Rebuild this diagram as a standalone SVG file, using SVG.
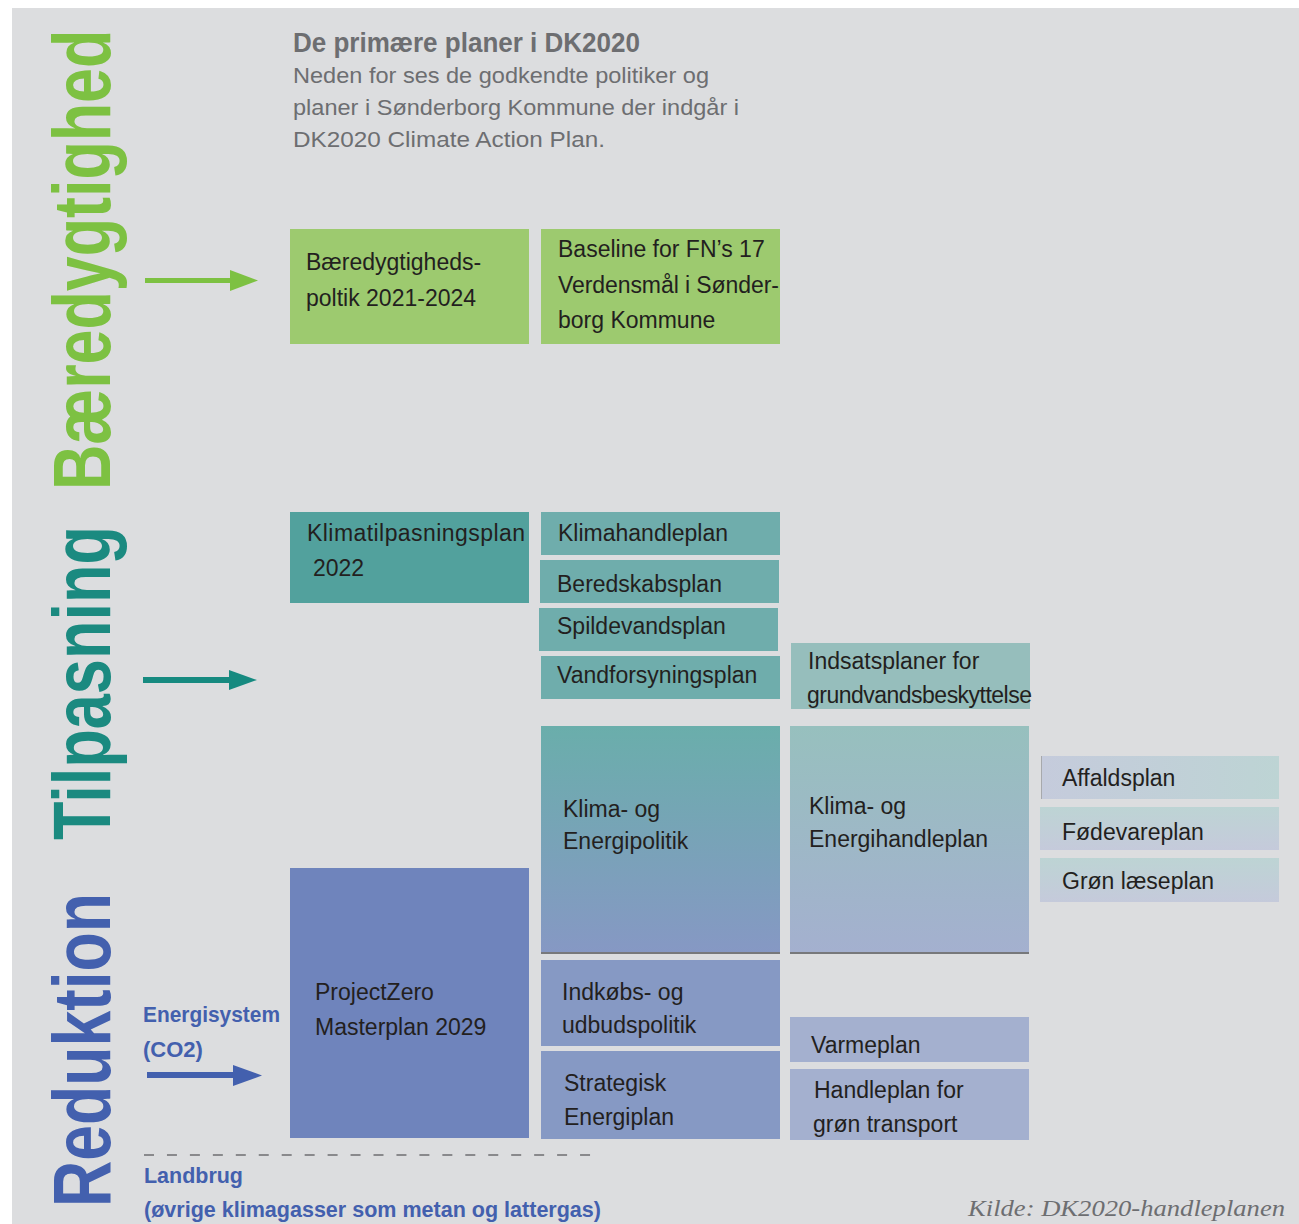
<svg xmlns="http://www.w3.org/2000/svg" width="1299" height="1224" viewBox="0 0 1299 1224">
  <defs>
    <style>
      .panel { fill: #dcdddf; }
      .title { font-family: "Liberation Sans", Arial, sans-serif; font-weight: bold; font-size: 27px; fill: #6d6e71; }
      .sub { font-family: "Liberation Sans", Arial, sans-serif; font-size: 22.5px; fill: #6d6e71; }
      .side { font-family: "Liberation Sans", Arial, sans-serif; font-weight: bold; font-size: 81px; }
      .lbl { font-family: "Liberation Sans", Arial, sans-serif; font-size: 23px; fill: #231f20; }
      .blue { font-family: "Liberation Sans", Arial, sans-serif; font-weight: bold; font-size: 22px; fill: #4360ae; }
      .src { font-family: "Liberation Serif", "Times New Roman", serif; font-style: italic; font-size: 24px; fill: #6d6e71; }
      .green { fill: #9dca6f; }
      .teal1 { fill: #52a19d; }
      .teal2 { fill: #6fadac; }
      .teal3 { fill: #96bebc; }
      .blue1 { fill: #6f84bc; }
      .blue2 { fill: #8699c4; }
      .blue3 { fill: #a4b0cf; }
      .edge { stroke: #77787b; stroke-width: 2; }
    </style>
    <linearGradient id="gPolitik" x1="0" y1="0" x2="0" y2="1">
      <stop offset="0" stop-color="#6aaeab"/>
      <stop offset="1" stop-color="#8698c4"/>
    </linearGradient>
    <linearGradient id="gHandle" x1="0" y1="0" x2="0" y2="1">
      <stop offset="0" stop-color="#97c0be"/>
      <stop offset="1" stop-color="#a4b0cf"/>
    </linearGradient>
    <linearGradient id="gAffald" x1="0" y1="0" x2="1" y2="0">
      <stop offset="0" stop-color="#c5cbdc"/>
      <stop offset="1" stop-color="#bdd4d4"/>
    </linearGradient>
    <linearGradient id="gSmall" x1="0" y1="0" x2="0" y2="1">
      <stop offset="0" stop-color="#bdd4d4"/>
      <stop offset="1" stop-color="#c5cadb"/>
    </linearGradient>
  </defs>

  <!-- background -->
  <rect x="0" y="0" width="1299" height="1224" fill="#ffffff"/>
  <rect class="panel" x="12" y="8" width="1287" height="1216"/>

  <!-- heading -->
  <g id="heading">
    <text class="title" x="293" y="52" textLength="347" lengthAdjust="spacingAndGlyphs">De primære planer i DK2020</text>
    <text class="sub" x="293" y="83" textLength="416" lengthAdjust="spacingAndGlyphs">Neden for ses de godkendte politiker og</text>
    <text class="sub" x="293" y="115" textLength="446" lengthAdjust="spacingAndGlyphs">planer i Sønderborg Kommune der indgår i</text>
    <text class="sub" x="293" y="147" textLength="312" lengthAdjust="spacingAndGlyphs">DK2020 Climate Action Plan.</text>
  </g>

  <!-- vertical category labels (condensed by a horizontal scale along the reading direction) -->
  <g id="categories">
    <text class="side" fill="#7dc142" transform="translate(110 490) rotate(-90) scale(0.775 1)">Bæredygtighed</text>
    <text class="side" fill="#1b8a80" transform="translate(110 840) rotate(-90) scale(0.778 1)">Tilpasning</text>
    <text class="side" fill="#4360ae" transform="translate(110 1207) rotate(-90) scale(0.793 1)">Reduktion</text>
  </g>

  <!-- connectors -->
  <g id="connectors">
    <g id="arrow-green" fill="#7dc142">
      <rect x="145" y="278" width="88" height="5"/>
      <polygon points="230,270 258,280.5 230,291"/>
    </g>
    <g id="arrow-teal" fill="#168a80">
      <rect x="143" y="677" width="89" height="6"/>
      <polygon points="229,670 257,680 229,690"/>
    </g>
    <g id="arrow-blue" fill="#4360ae">
      <rect x="147" y="1072" width="88" height="6"/>
      <polygon points="233,1065 262,1075.5 233,1086"/>
    </g>
    <line id="divider" x1="144" y1="1155" x2="592" y2="1155" stroke="#6d6e71" stroke-width="1.5" stroke-dasharray="10 12.95"/>
  </g>

  <!-- Bæredygtighed -->
  <g id="node-baeredygtighedspolitik">
    <rect class="green" x="290" y="229" width="239" height="115"/>
    <text class="lbl" x="306" y="270">Bæredygtigheds-</text>
    <text class="lbl" x="306" y="306">poltik 2021-2024</text>
  </g>
  <g id="node-baseline-fn">
    <rect class="green" x="541" y="229" width="239" height="115"/>
    <text class="lbl" x="558" y="257">Baseline for FN’s 17</text>
    <text class="lbl" x="558" y="293" textLength="221">Verdensmål i Sønder-</text>
    <text class="lbl" x="558" y="328">borg Kommune</text>
  </g>

  <!-- Tilpasning -->
  <g id="node-klimatilpasningsplan">
    <rect class="teal1" x="290" y="512" width="239" height="91"/>
    <text class="lbl" x="307" y="541" textLength="218">Klimatilpasningsplan</text>
    <text class="lbl" x="313" y="576">2022</text>
  </g>
  <g id="node-klimahandleplan">
    <rect class="teal2" x="541" y="512" width="239" height="43"/>
    <text class="lbl" x="558" y="541">Klimahandleplan</text>
  </g>
  <g id="node-beredskabsplan">
    <rect class="teal2" x="540" y="560" width="239" height="43"/>
    <text class="lbl" x="557" y="592">Beredskabsplan</text>
  </g>
  <g id="node-spildevandsplan">
    <rect class="teal2" x="539" y="608" width="239" height="43"/>
    <text class="lbl" x="557" y="634">Spildevandsplan</text>
  </g>
  <g id="node-vandforsyningsplan">
    <rect class="teal2" x="541" y="656" width="239" height="43"/>
    <text class="lbl" x="557" y="683">Vandforsyningsplan</text>
  </g>
  <g id="node-indsatsplaner">
    <rect class="teal3" x="791" y="643" width="239" height="66"/>
    <text class="lbl" x="808" y="669">Indsatsplaner for</text>
    <text class="lbl" x="807" y="703" textLength="225">grundvandsbeskyttelse</text>
  </g>

  <!-- Reduktion -->
  <g id="node-klima-energipolitik">
    <rect x="541" y="726" width="239" height="227" fill="url(#gPolitik)"/>
    <line class="edge" x1="541" y1="953" x2="780" y2="953"/>
    <text class="lbl" x="563" y="817">Klima- og</text>
    <text class="lbl" x="563" y="849">Energipolitik</text>
  </g>
  <g id="node-klima-energihandleplan">
    <rect x="790" y="726" width="239" height="227" fill="url(#gHandle)"/>
    <line class="edge" x1="790" y1="953" x2="1029" y2="953"/>
    <text class="lbl" x="809" y="814">Klima- og</text>
    <text class="lbl" x="809" y="847">Energihandleplan</text>
  </g>
  <g id="node-affaldsplan">
    <rect x="1041" y="756" width="238" height="43" fill="url(#gAffald)"/>
    <line x1="1041.5" y1="756" x2="1041.5" y2="799" stroke="#a7a9ac" stroke-width="1"/>
    <text class="lbl" x="1062" y="786">Affaldsplan</text>
  </g>
  <g id="node-foedevareplan">
    <rect x="1040" y="807" width="239" height="43" fill="url(#gSmall)"/>
    <text class="lbl" x="1062" y="840">Fødevareplan</text>
  </g>
  <g id="node-groen-laeseplan">
    <rect x="1040" y="858" width="239" height="44" fill="url(#gSmall)"/>
    <text class="lbl" x="1062" y="889">Grøn læseplan</text>
  </g>
  <g id="node-projectzero">
    <rect class="blue1" x="290" y="868" width="239" height="270"/>
    <text class="lbl" x="315" y="1000">ProjectZero</text>
    <text class="lbl" x="315" y="1035">Masterplan 2029</text>
  </g>
  <g id="node-indkoebspolitik">
    <rect class="blue2" x="541" y="960" width="239" height="86"/>
    <text class="lbl" x="562" y="1000">Indkøbs- og</text>
    <text class="lbl" x="562" y="1033">udbudspolitik</text>
  </g>
  <g id="node-strategisk-energiplan">
    <rect class="blue2" x="541" y="1051" width="239" height="88"/>
    <text class="lbl" x="564" y="1091">Strategisk</text>
    <text class="lbl" x="564" y="1125">Energiplan</text>
  </g>
  <g id="node-varmeplan">
    <rect class="blue3" x="790" y="1017" width="239" height="45"/>
    <text class="lbl" x="811" y="1053">Varmeplan</text>
  </g>
  <g id="node-groen-transport">
    <rect class="blue3" x="790" y="1069" width="239" height="71"/>
    <text class="lbl" x="814" y="1098">Handleplan for</text>
    <text class="lbl" x="813" y="1132">grøn transport</text>
  </g>

  <!-- side notes -->
  <g id="note-energisystem">
    <text class="blue" x="143" y="1022" textLength="137" lengthAdjust="spacingAndGlyphs">Energisystem</text>
    <text class="blue" x="143" y="1057">(CO2)</text>
  </g>
  <g id="note-landbrug">
    <text class="blue" x="144" y="1183" textLength="99" lengthAdjust="spacingAndGlyphs">Landbrug</text>
    <text class="blue" x="144" y="1217" textLength="457" lengthAdjust="spacingAndGlyphs">(øvrige klimagasser som metan og lattergas)</text>
  </g>

  <text class="src" x="1285" y="1216" text-anchor="end" textLength="317" lengthAdjust="spacingAndGlyphs">Kilde: DK2020-handleplanen</text>
</svg>
